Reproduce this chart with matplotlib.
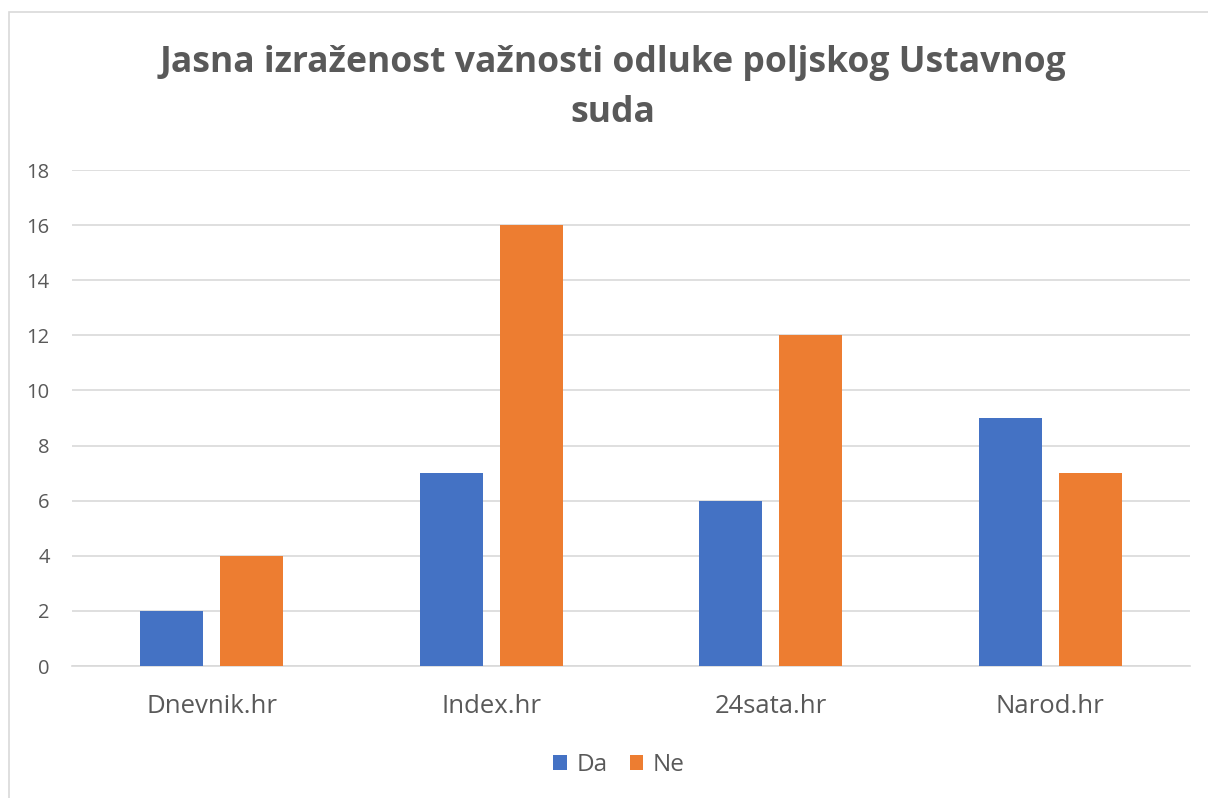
import matplotlib
matplotlib.use("Agg")
import matplotlib.pyplot as plt
import numpy as np
from matplotlib.patches import Rectangle

plt.rcParams['font.family'] = ['Open Sans', 'DejaVu Sans']

# data
categories = ['Dnevnik.hr', 'Index.hr', '24sata.hr', 'Narod.hr']
da_values = [2, 7, 6, 9]
ne_values = [4, 16, 12, 7]
series_names = ['Da', 'Ne']
yticks = [0, 2, 4, 6, 8, 10, 12, 14, 16, 18]

BLUE = '#4472C4'
ORANGE = '#ED7D31'
TEXT = '#595959'
GRID = '#D9D9D9'

fig = plt.figure(figsize=(12.08, 7.98), dpi=100)
# outer chart border (only left and top visible in the crop)
fig.add_artist(Rectangle((9 / 1208, -0.1), 1.2, (798 - 12) / 798 + 0.1,
                         transform=fig.transFigure, fill=False,
                         edgecolor=GRID, linewidth=1.2))

ax = fig.add_axes([72 / 1208, (798 - 666) / 798, (1190 - 72) / 1208, (666 - 170) / 798])

x = np.arange(len(categories))
w = 0.225
gap = 0.061
ax.bar(x - (w + gap) / 2, da_values, w, color=BLUE, label=series_names[0], zorder=3)
ax.bar(x + (w + gap) / 2, ne_values, w, color=ORANGE, label=series_names[1], zorder=3)

ax.set_xlim(-0.5, len(categories) - 0.5)
ax.set_ylim(0, 18)
ax.set_yticks(yticks)
ax.set_xticks(x)
ax.set_xticklabels(categories)
ax.grid(axis='y', color=GRID, linewidth=1.2, zorder=0)
for s in ['top', 'right', 'left']:
    ax.spines[s].set_visible(False)
ax.spines['bottom'].set_color(GRID)
ax.spines['bottom'].set_linewidth(1.2)
ax.tick_params(axis='both', length=0, colors=TEXT)
ax.tick_params(axis='x', pad=20, labelsize=18.5)
ax.tick_params(axis='y', pad=16, labelsize=14.5)

title_x = 613 / 1208
fig.text(title_x, 1 - 63 / 798, 'Jasna izraženost važnosti odluke poljskog Ustavnog',
         ha='center', va='center', fontsize=25.6, fontweight='bold', color=TEXT)
fig.text(title_x, 1 - 113 / 798, 'suda',
         ha='center', va='center', fontsize=25.6, fontweight='bold', color=TEXT)

fig.legend(loc='center', bbox_to_anchor=(619 / 1208, 1 - 765 / 798), ncol=2, frameon=False,
           fontsize=17.5, labelcolor=TEXT, handlelength=0.55, handleheight=0.55,
           handletextpad=0.4, columnspacing=0.9)

fig.savefig('out.png', dpi=100, facecolor='white')
